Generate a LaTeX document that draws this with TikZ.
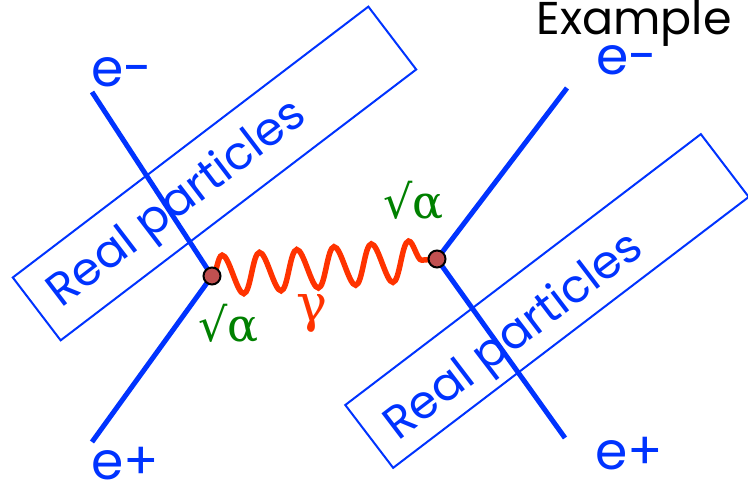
\documentclass[tikz,border=0pt]{standalone}
\usepackage{fontspec}
\newfontfamily\greekfont{DejaVu Serif}
\newfontfamily\gothicfont{Poppins}
\usepackage{tikz}
\usetikzlibrary{decorations.pathmorphing}
\usepackage{xcolor}
\definecolor{lineblue}{RGB}{0,51,255}
\definecolor{photonred}{RGB}{255,51,0}
\definecolor{vertexred}{RGB}{192,80,80}
\definecolor{coupgreen}{RGB}{0,128,0}

\begin{document}
\begin{tikzpicture}[x=1pt,y=1pt,font=\gothicfont,
  fermion/.style={lineblue,line width=5pt},
  photon/.style={photonred,line width=5.5pt,decorate,
    decoration={snake,segment length=37.4pt,amplitude=20pt}},
  vertex/.style={circle,draw=black,line width=2pt,fill=vertexred,
    inner sep=0pt,minimum size=17pt},
  realbox/.style={draw=lineblue,line width=2pt,rotate=37.3,
    minimum width=447pt,minimum height=79pt},
  realtext/.style={lineblue,rotate=37.3,
    font=\gothicfont\fontsize{46}{46}\selectfont},
  lepton/.style={lineblue,anchor=base west,
    font=\gothicfont\fontsize{52}{52}\selectfont},
  coupling/.style={coupgreen,anchor=base west,
    font=\greekfont\fontsize{46}{46}\selectfont}]
\useasboundingbox (0,0) rectangle (748,486);

% boxes round the real particles
\node[realbox] (boxL) at (214.5,312.5) {};
\node[realbox] (boxR) at (547,185) {};
\node[realtext] (textL) at (178,281) {Real particles};
\node[realtext] (textR) at (515,148) {Real particles};

% vertices and outer legs
\coordinate (vL) at (212,210);
\coordinate (vR) at (437,227);
\coordinate (emL) at (92,394);
\coordinate (epL) at (92,44);
\coordinate (emR) at (567,398);
\coordinate (epR) at (565,48);
\draw[fermion] (emL) -- (vL) -- (epL);
\draw[fermion] (emR) -- (vR) -- (epR);
\draw[photon] (vL) -- (vR);
\node[vertex] (vertexL) at (vL) {};
\node[vertex] (vertexR) at (vR) {};

% labels
\node[lepton] (emLlabel) at (88,399) {e-};
\node[lepton] (epLlabel) at (88,6) {e+};
\node[lepton] (emRlabel) at (593,411) {e-};
\node[lepton] (epRlabel) at (592,16) {e+};
\node[coupling] (alphaL) at (195,144) {√α};
\node[coupling] (alphaR) at (380,267) {√α};
\node[coupling,photonred,font=\greekfont\fontsize{52}{52}\selectfont] (gamma) at (293,164) {γ};
\node[anchor=base,font=\gothicfont\fontsize{46}{46}\selectfont] (title) at (634,451) {Example};
\end{tikzpicture}
\end{document}
